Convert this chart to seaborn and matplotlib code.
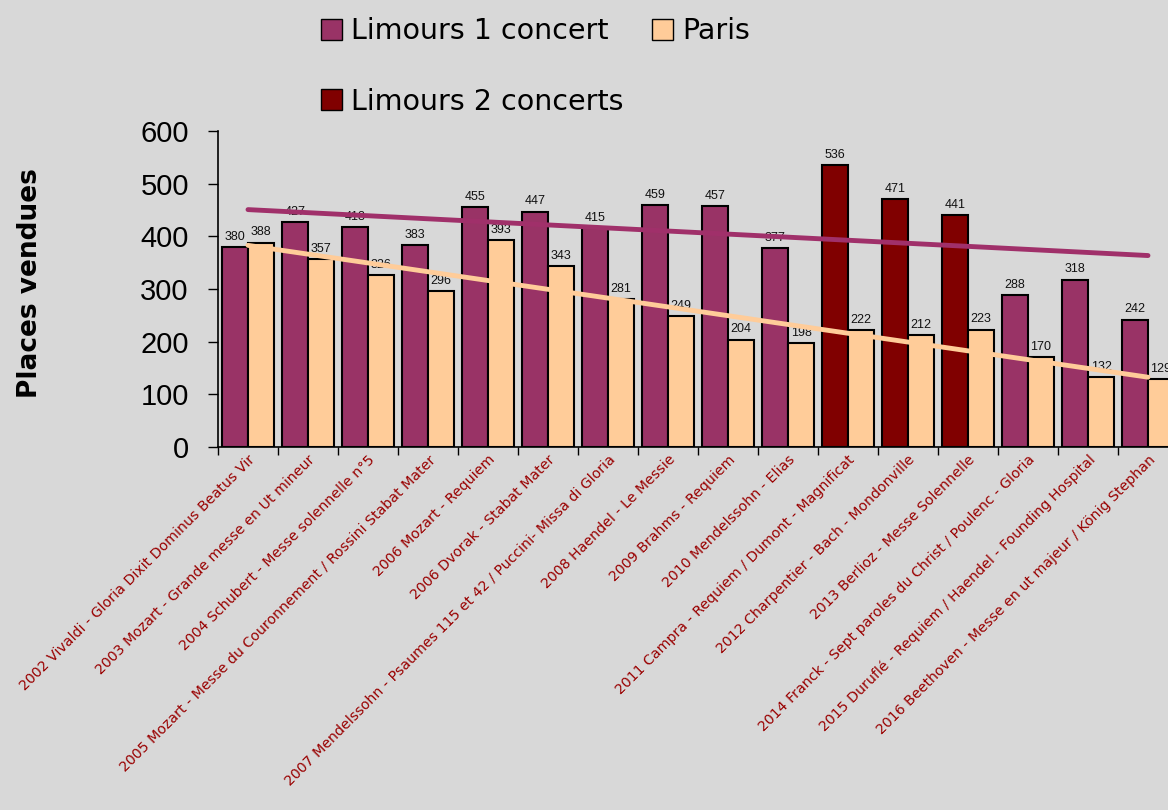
import numpy as np
import pandas as pd
import seaborn as sns
import matplotlib.pyplot as plt
from matplotlib.patches import Patch

# Concerts (x axis)
concerts = [
    "2002 Vivaldi - Gloria Dixit Dominus Beatus Vir",
    "2003 Mozart - Grande messe en Ut mineur",
    "2004 Schubert - Messe solennelle n°5",
    "2005 Mozart - Messe du Couronnement / Rossini Stabat Mater",
    "2006 Mozart - Requiem",
    "2006 Dvorak - Stabat Mater",
    "2007 Mendelssohn - Psaumes 115 et 42 / Puccini- Missa di Gloria",
    "2008 Haendel - Le Messie",
    "2009 Brahms - Requiem",
    "2010 Mendelssohn - Elias",
    "2011 Campra - Requiem / Dumont - Magnificat",
    "2012 Charpentier - Bach - Mondonville",
    "2013 Berlioz - Messe Solennelle",
    "2014 Franck - Sept paroles du Christ / Poulenc - Gloria",
    "2015 Duruflé - Requiem / Haendel - Founding Hospital",
    "2016 Beethoven - Messe en ut majeur / König Stephan",
]

# places vendues
limours = [380, 427, 418, 383, 455, 447, 415, 459, 457, 377, 536, 471, 441, 288, 318, 242]
paris = [388, 357, 326, 296, 393, 343, 281, 249, 204, 198, 222, 212, 223, 170, 132, 129]
# nombre de concerts a Limours
nb_concerts_limours = [1, 1, 1, 1, 1, 1, 1, 1, 1, 1, 2, 2, 2, 1, 1, 1]

col_l1 = "#993366"
col_l2 = "#800000"
col_paris = "#FFCC99"
bg = "#d8d8d8"

df = pd.DataFrame({
    "concert": concerts * 2,
    "serie": ["Limours"] * len(concerts) + ["Paris"] * len(concerts),
    "places": limours + paris,
})

sns.set_style("white")
plt.rcParams["font.family"] = ["DejaVu Sans"]
plt.rcParams["text.color"] = "black"

fig = plt.figure(figsize=(11.68, 8.10), dpi=100, facecolor=bg)
ax = fig.add_axes([218 / 1168, 363 / 810, 960 / 1168, 316 / 810])
ax.set_facecolor("none")

sns.barplot(data=df, x="concert", y="places", hue="serie",
            palette={"Limours": col_l1, "Paris": col_paris},
            width=0.87, saturation=1, edgecolor="black", linewidth=1.5,
            legend=False, ax=ax)

# Limours 2 concerts in dark red
for bar, n in zip(ax.containers[0], nb_concerts_limours):
    if n == 2:
        bar.set_facecolor(col_l2)

for cont in ax.containers:
    ax.bar_label(cont, fontsize=9, padding=3, family="Liberation Sans", color="#111111")

# linear trend lines
x = np.arange(len(concerts))
for vals, c in [(limours, "#a0306a"), (paris, "#ffcc99")]:
    p = np.polyfit(x, vals, 1)
    ax.plot(x, np.polyval(p, x), color=c, lw=3.5, zorder=5)

ax.set_xlim(-0.5, len(concerts) - 0.5)
ax.set_ylim(0, 600)
ax.set_yticks(range(0, 601, 100))
ax.tick_params(axis="y", labelsize=21, length=7, width=1, direction="out",
               color="black", labelcolor="black", left=True, pad=14)
for t in ax.get_yticklabels():
    t.set_family("Liberation Sans")

ax.set_xticks(x)
ax.set_xticklabels(concerts, rotation=45, ha="right", rotation_mode="anchor",
                   fontsize=10.2, color="#990000")
ax.tick_params(axis="x", length=0, pad=4)
ax.set_xticks(np.arange(-0.5, len(concerts), 1), minor=True)
ax.tick_params(axis="x", which="minor", length=6, width=1, direction="out", color="black", bottom=True)

for s in ["top", "right"]:
    ax.spines[s].set_visible(False)
for s in ["left", "bottom"]:
    ax.spines[s].set_color("black")
    ax.spines[s].set_linewidth(1.2)

ax.set_xlabel("")
ax.set_ylabel("Places vendues", fontsize=19, fontweight="bold", color="black")
ax.yaxis.set_label_coords(-0.182, 0.52)

handles = [
    Patch(facecolor=col_l1, edgecolor="black", label="Limours 1 concert"),
    Patch(facecolor=col_l2, edgecolor="black", label="Limours 2 concerts"),
    Patch(facecolor=col_paris, edgecolor="black", label="Paris"),
]
fig.legend(handles=handles, ncol=2, loc="upper left", bbox_to_anchor=(304 / 1168, 1.0),
           frameon=False, fontsize=20.5, handlelength=0.75, handleheight=0.75,
           handletextpad=0.3, columnspacing=1.0, labelspacing=1.5, borderpad=0.1,
           labelcolor="black")

fig.savefig("out.png", dpi=100, facecolor=bg)
